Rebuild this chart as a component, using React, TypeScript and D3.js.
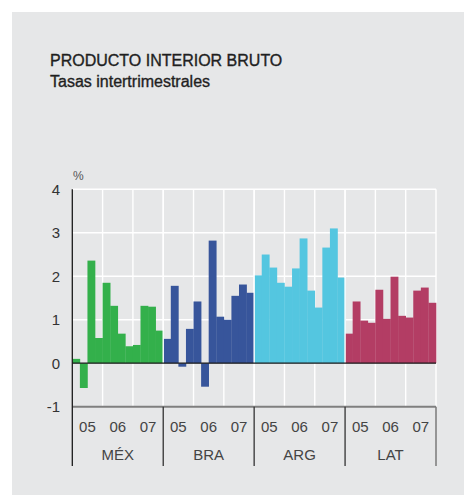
import React from "react"
import * as d3 from "d3"

// quarterly GDP growth, 2005Q1..2007Q4 per country
const countries = ["MÉX", "BRA", "ARG", "LAT"]
const years = ["05", "06", "07"]
const colors = ["#33b04b", "#37559b", "#54c6e0", "#b33d64"]

const mex = [0.1, -0.57, 2.36, 0.58, 1.85, 1.32, 0.68, 0.39, 0.42, 1.32, 1.3, 0.75]
const bra = [0.56, 1.78, -0.08, 0.79, 1.42, -0.54, 2.82, 1.07, 1.0, 1.55, 1.81, 1.62]
const arg = [2.02, 2.5, 2.2, 1.85, 1.76, 2.18, 2.87, 1.67, 1.28, 2.66, 3.1, 1.97]
const lat = [0.68, 1.42, 0.98, 0.93, 1.69, 1.02, 1.99, 1.09, 1.05, 1.67, 1.74, 1.39]
const series = [mex, bra, arg, lat]

const yTicks = [4, 3, 2, 1, 0, -1]

const font = "'Liberation Sans', Arial, Helvetica, sans-serif"

export default function App() {
  const left = 72.3
  const right = 436
  const top = 189.3
  const bottom = 406.7

  const bars = []
  series.forEach((s, ci) => {
    s.forEach((v, i) => {
      bars.push({ key: countries[ci] + i, c: ci, idx: ci * 12 + i, v })
    })
  })

  const x = d3.scaleBand().domain(d3.range(48)).range([left, right]).padding(0)
  const y = d3.scaleLinear().domain([-1, 4]).range([bottom, top])
  const yearX = d3.scaleBand().domain(d3.range(12)).range([left, right])
  const countryX = d3.scaleBand().domain(countries).range([left, right])

  const yearCols = d3.range(13).map(i => left + i * yearX.bandwidth())

  return (
    <svg width={464} height={495} style={{ position: "absolute", left: 0, top: 0 }}>
      <rect x={12} y={12} width={452} height={483} fill="#e6e7e8" />
      <text x={50} y={66} fontFamily={font} fontSize={16} fill="#1f1f1f" stroke="#1f1f1f" strokeWidth={0.35}>PRODUCTO INTERIOR BRUTO</text>
      <text x={50} y={86.7} fontFamily={font} fontSize={16} fill="#1f1f1f" stroke="#1f1f1f" strokeWidth={0.35}>Tasas intertrimestrales</text>
      <text x={73} y={180} fontFamily={font} fontSize={12} fill="#555">%</text>

      {/* gridlines */}
      {yTicks.filter(t => t > 0).map(t => (
        <line key={"h" + t} x1={left} x2={right} y1={y(t)} y2={y(t)} stroke="#fff" strokeWidth={1.4} />
      ))}
      {yearCols.slice(1).map((xv, i) => (
        <line key={"v" + i} x1={xv} x2={xv} y1={top} y2={bottom} stroke="#fff" strokeWidth={1.4} />
      ))}

      {bars.map(b => (
        <rect key={b.key} x={x(b.idx)} width={x.bandwidth() + 0.3}
          y={Math.min(y(b.v), y(0))} height={Math.abs(y(b.v) - y(0))} fill={colors[b.c]} />
      ))}

      {/* white separators between countries */}
      {[1, 2, 3].map(i => {
        const xv = countryX(countries[i])
        return <line key={"s" + i} x1={xv} x2={xv} y1={top} y2={bottom} stroke="#fff" strokeWidth={1.4} />
      })}

      <line x1={left} x2={right} y1={y(0)} y2={y(0)} stroke="#1a1a1a" strokeWidth={1.3} />
      <line x1={left} x2={right} y1={bottom} y2={bottom} stroke="#7f7f7f" strokeWidth={2} />
      <line x1={left} x2={left} y1={top} y2={466} stroke="#1a1a1a" strokeWidth={1.3} />
      {[1, 2, 3].map(i => {
        const xv = countryX(countries[i])
        return <line key={"c" + i} x1={xv} x2={xv} y1={bottom} y2={466} stroke="#333" strokeWidth={1.3} />
      })}
      <line x1={right} x2={right} y1={bottom} y2={466} stroke="#7a7a7a" strokeWidth={1.5} />

      {yTicks.map(t => (
        <text key={"t" + t} x={60} y={y(t) + 5.5} textAnchor="end" fontFamily={font} fontSize={15} fill="#333">{t}</text>
      ))}

      {d3.range(12).map(i => (
        <text key={"y" + i} x={yearX(i) + yearX.bandwidth() / 2} y={431.5} textAnchor="middle"
          fontFamily={font} fontSize={15} fill="#444">{years[i % 3]}</text>
      ))}
      {countries.map(c => (
        <text key={c} x={countryX(c) + countryX.bandwidth() / 2} y={460} textAnchor="middle"
          fontFamily={font} fontSize={15} fill="#444">{c}</text>
      ))}
    </svg>
  )
}
